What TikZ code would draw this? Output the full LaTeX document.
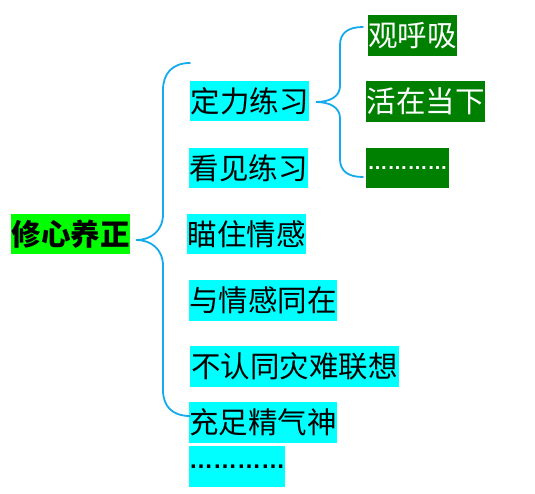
\documentclass[tikz,border=0pt]{standalone}
\usepackage{fontspec}
\newfontfamily\cjk{Noto Sans CJK SC}
\newfontfamily\dotfont{Liberation Sans}
\definecolor{cyanbox}{RGB}{0,255,255}
\definecolor{limebox}{RGB}{0,255,0}
\definecolor{darkgreenbox}{RGB}{0,128,0}
\definecolor{bracecol}{RGB}{20,170,235}
\tikzset{
  box/.style={inner sep=0pt, minimum height=40pt, font=\cjk\fontsize{29.5}{31}\selectfont, text=black},
  cybox/.style={box, fill=cyanbox},
  gbox/.style={box, fill=darkgreenbox, text=white},
  rootbox/.style={box, fill=limebox, font=\cjk\bfseries\fontsize{29.5}{31}\selectfont},
  brace/.style={draw=bracecol, line width=1.8pt, line cap=round}
}
\begin{document}
\begin{tikzpicture}[x=1pt,y=-1pt]
\useasboundingbox (0,0) rectangle (535,494);
% root
\node[rootbox, minimum width=119pt] (root) at (70.5,234) {修心养正};
% level 1
\node[cybox, minimum width=119pt] (a1) at (249.5,101) {定力练习};
\node[cybox, minimum width=119pt] (a2) at (248.5,168) {看见练习};
\node[cybox, minimum width=119pt] (a3) at (246.5,234) {瞄住情感};
\node[cybox, minimum width=148pt, minimum height=41pt] (a4) at (263,300.5) {与情感同在};
\node[cybox, minimum width=209pt, minimum height=41pt] (a5) at (294.5,366.5) {不认同灾难联想};
\node[cybox, minimum width=148pt, minimum height=41pt] (a6) at (263,422.5) {充足精气神};
\node[cybox, minimum width=96pt, minimum height=41pt, font=\dotfont\bfseries\fontsize{24}{26}\selectfont] (a7) at (237,466.5) {…………};
% level 2
\node[gbox, minimum width=89pt, minimum height=41pt] (b1) at (412.5,35.5) {观呼吸};
\node[gbox, minimum width=119pt, minimum height=41pt] (b2) at (425.5,101.5) {活在当下};
\node[gbox, minimum width=83pt, font=\dotfont\bfseries\fontsize{20}{22}\selectfont] (b3) at (407.5,168) {…………};
% main brace
\coordinate (m1top) at (190,63);
\coordinate (m1tip) at (136,240);
\coordinate (m1bot) at (190,416);
\draw[brace] (m1top) .. controls (172,63) and (163,74) .. (163,90) -- (163,214)
  .. controls (163,231) and (151,240) .. (m1tip)
  .. controls (151,240) and (163,249) .. (163,266) -- (163,390)
  .. controls (163,406) and (172,416) .. (m1bot);
% second brace
\coordinate (m2top) at (363,27);
\coordinate (m2tip) at (316,102);
\coordinate (m2bot) at (363,177);
\draw[brace] (m2top) .. controls (348,27) and (340,33) .. (340,45) -- (340,86)
  .. controls (340,97) and (329,102) .. (m2tip)
  .. controls (329,102) and (340,107) .. (340,118) -- (340,159)
  .. controls (340,171) and (348,177) .. (m2bot);
\end{tikzpicture}
\end{document}
